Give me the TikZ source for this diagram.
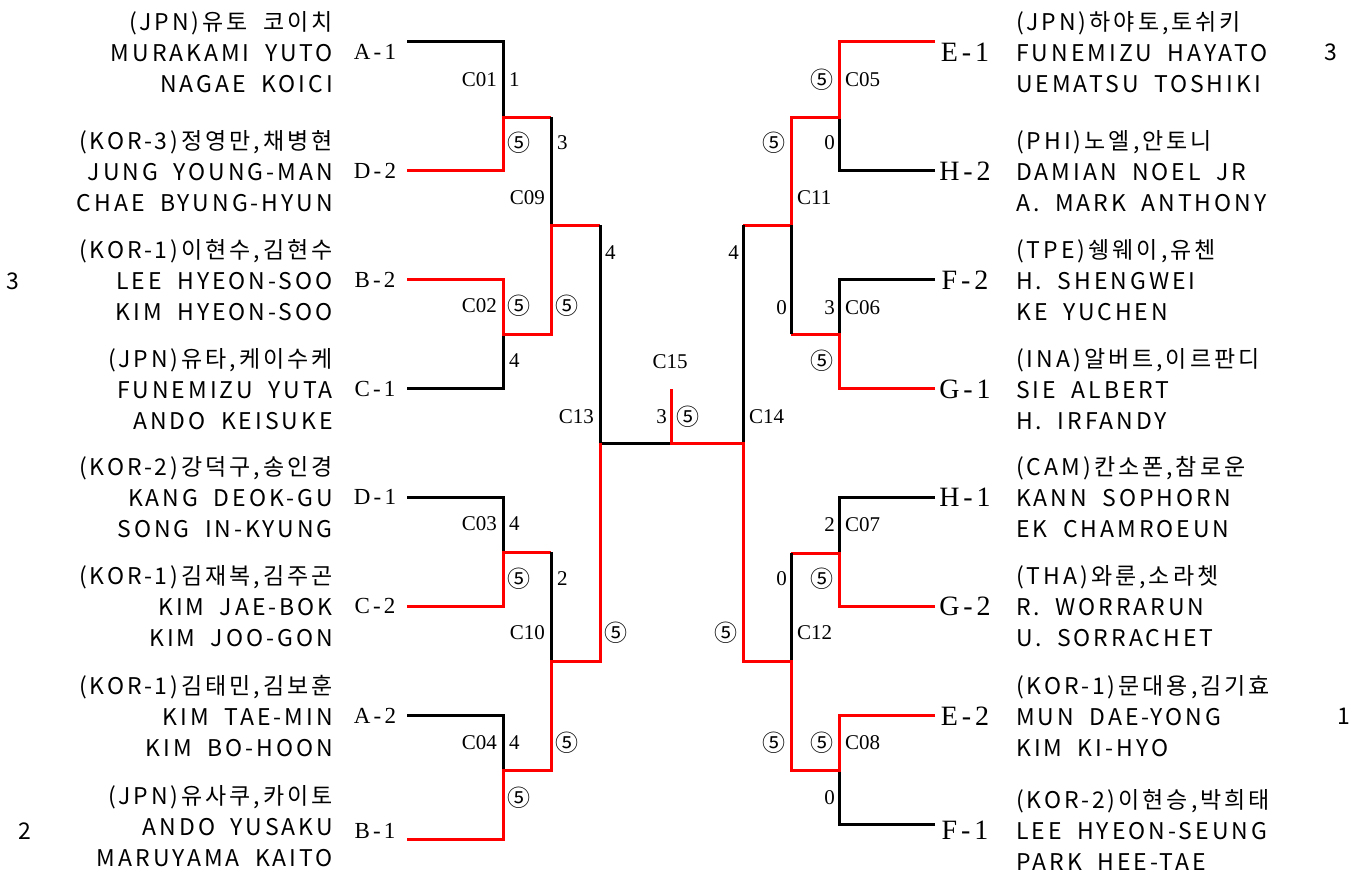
\documentclass[tikz,border=0pt]{standalone}
\usepackage{fontspec}
\setmainfont{Liberation Serif}
\newfontfamily\krfont[LetterSpace=13, WordSpace=1.9]{Noto Sans CJK KR}
\newfontfamily\circfont{Noto Sans CJK KR}
\newfontfamily\seedfont[LetterSpace=14]{Liberation Serif}
\usepackage{tikz}

\begin{document}
\begin{tikzpicture}[x=1pt, y=-1pt,
		win/.style={draw=red, line width=3pt},
		lose/.style={draw=black, line width=3pt},
		team/.style={font=\krfont\fontsize{23}{31}\selectfont, inner sep=0pt},
		seedl/.style={font=\seedfont\fontsize{23}{24}\selectfont, inner sep=0pt},
		seedr/.style={font=\seedfont\fontsize{28}{30}\selectfont, inner sep=0pt},
		match/.style={font=\fontsize{21}{24}\selectfont, inner sep=0pt},
		five/.style={font=\circfont\fontsize{23}{24}\selectfont, inner sep=0pt}]
				\useasboundingbox (0,0) rectangle (1356,876);
				% Teams, left half:
				\node[team, anchor=east, align=right] (tA1) at (333,52) {(JPN)유토 코이치\\MURAKAMI YUTO\\NAGAE KOICI};
				\node[team, anchor=east, align=right] (tD2) at (333,171) {(KOR-3)정영만,채병현\\JUNG YOUNG-MAN\\CHAE BYUNG-HYUN};
				\node[team, anchor=east, align=right] (tB2) at (333,280) {(KOR-1)이현수,김현수\\LEE HYEON-SOO\\KIM HYEON-SOO};
				\node[team, anchor=east, align=right] (tC1) at (333,389) {(JPN)유타,케이수케\\FUNEMIZU YUTA\\ANDO KEISUKE};
				\node[team, anchor=east, align=right] (tD1) at (333,497) {(KOR-2)강덕구,송인경\\KANG DEOK-GU\\SONG IN-KYUNG};
				\node[team, anchor=east, align=right] (tC2) at (333,606) {(KOR-1)김재복,김주곤\\KIM JAE-BOK\\KIM JOO-GON};
				\node[team, anchor=east, align=right] (tA2) at (333,716) {(KOR-1)김태민,김보훈\\KIM TAE-MIN\\KIM BO-HOON};
				\node[team, anchor=east, align=right] (tB1) at (333,826) {(JPN)유사쿠,카이토\\ANDO YUSAKU\\MARUYAMA KAITO};
				\node[seedl] (sA1) at (375,52) {A-1};
				\node[seedl] (sD2) at (375,171) {D-2};
				\node[seedl] (sB2) at (375,280) {B-2};
				\node[seedl] (sC1) at (375,389) {C-1};
				\node[seedl] (sD1) at (375,497) {D-1};
				\node[seedl] (sC2) at (375,606) {C-2};
				\node[seedl] (sA2) at (375,716) {A-2};
				\node[seedl] (sB1) at (375,831) {B-1};
				\node[team] (pl1) at (13,281) {3};
				\node[team] (pl2) at (25,831) {2};
				% Teams, right half:
				\node[team, anchor=west, align=left] (tE1) at (1016,52) {(JPN)하야토,토쉬키\\FUNEMIZU HAYATO\\UEMATSU TOSHIKI};
				\node[team, anchor=west, align=left] (tH2) at (1016,171) {(PHI)노엘,안토니\\DAMIAN NOEL JR\\A. MARK ANTHONY};
				\node[team, anchor=west, align=left] (tF2) at (1016,280) {(TPE)쉥웨이,유첸\\H. SHENGWEI\\KE YUCHEN};
				\node[team, anchor=west, align=left] (tG1) at (1016,389) {(INA)알버트,이르판디\\SIE ALBERT\\H. IRFANDY};
				\node[team, anchor=west, align=left] (tH1) at (1016,497) {(CAM)칸소폰,참로운\\KANN SOPHORN\\EK CHAMROEUN};
				\node[team, anchor=west, align=left] (tG2) at (1016,606) {(THA)와룬,소라쳇\\R. WORRARUN\\U. SORRACHET};
				\node[team, anchor=west, align=left] (tE2) at (1016,716) {(KOR-1)문대용,김기효\\MUN DAE-YONG\\KIM KI-HYO};
				\node[team, anchor=west, align=left] (tF1) at (1016,830) {(KOR-2)이현승,박희태\\LEE HYEON-SEUNG\\PARK HEE-TAE};
				\node[seedr] (sE1) at (965,52) {E-1};
				\node[seedr] (sH2) at (965,171) {H-2};
				\node[seedr] (sF2) at (965,280) {F-2};
				\node[seedr] (sG1) at (965,389) {G-1};
				\node[seedr] (sH1) at (965,497) {H-1};
				\node[seedr] (sG2) at (965,606) {G-2};
				\node[seedr] (sE2) at (965,716) {E-2};
				\node[seedr] (sF1) at (965,830) {F-1};
				\node[team] (pl3) at (1331,52) {3};
				\node[team] (pl4) at (1344,716) {1};
				% Bracket points:
				\coordinate (eA1) at (407,41);
				\coordinate (eD2) at (407,170);
				\coordinate (eB2) at (407,279);
				\coordinate (eC1) at (407,388);
				\coordinate (eD1) at (407,497);
				\coordinate (eC2) at (407,606);
				\coordinate (eA2) at (407,715);
				\coordinate (eB1) at (407,839);
				\coordinate (m01) at (503,117);
				\coordinate (m02) at (503,334);
				\coordinate (m03) at (503,552);
				\coordinate (m04) at (503,770);
				\coordinate (m09) at (551,225);
				\coordinate (m10) at (551,661);
				\coordinate (m13) at (600,443);
				\coordinate (m15) at (671,443);
				\coordinate (f15) at (671,389);
				\coordinate (eE1) at (935,41);
				\coordinate (eH2) at (935,170);
				\coordinate (eF2) at (935,279);
				\coordinate (eG1) at (935,388);
				\coordinate (eH1) at (935,497);
				\coordinate (eG2) at (935,606);
				\coordinate (eE2) at (935,715);
				\coordinate (eF1) at (935,824);
				\coordinate (m05) at (839,117);
				\coordinate (m06) at (839,334);
				\coordinate (m07) at (839,553);
				\coordinate (m08) at (839,770);
				\coordinate (m11) at (791,225);
				\coordinate (m12) at (791,661);
				\coordinate (m14) at (743,443);
				% Lines, left half:
				\draw[lose] (eA1) -| (m01);
				\draw[win] (eD2) -| (m01) -- (m01 -| m09);
				\draw[lose] (m01 -| m09) -- (m09);
				\draw[lose] (eC1) -| (m02);
				\draw[win] (eB2) -| (m02) -- (m02 -| m09) -- (m09) -- (m09 -| m13);
				\draw[lose] (m09 -| m13) -- (m13) -- (m15);
				\draw[lose] (eD1) -| (m03);
				\draw[win] (eC2) -| (m03) -- (m03 -| m10);
				\draw[lose] (m03 -| m10) -- (m10);
				\draw[lose] (eA2) -| (m04);
				\draw[win] (eB1) -| (m04) -- (m04 -| m10) -- (m10) -- (m10 -| m13) -- (m13);
				% Lines, right half:
				\draw[lose] (eH2) -| (m05);
				\draw[win] (eE1) -| (m05) -- (m05 -| m11) -- (m11) -- (m11 -| m14);
				\draw[lose] (eF2) -| (m06);
				\draw[win] (eG1) -| (m06) -- (m06 -| m11);
				\draw[lose] (m06 -| m11) -- (m11);
				\draw[lose] (m11 -| m14) -- (m14);
				\draw[lose] (eH1) -| (m07);
				\draw[win] (eG2) -| (m07) -- (m07 -| m12);
				\draw[lose] (m07 -| m12) -- (m12);
				\draw[lose] (eF1) -| (m08);
				\draw[win] (eE2) -| (m08) -- (m08 -| m12) -- (m12) -- (m12 -| m14) -- (m14) -- (m15) -- (f15);
				% Match numbers and scores, left half:
				\node[match, anchor=east] (c01) at (497,80) {C01};
				\node[match, anchor=west] (s01a) at (509,80) {1};
				\node[five, anchor=west] (s01b) at (507,143) {⑤};
				\node[match, anchor=east] (c02) at (497,306) {C02};
				\node[five, anchor=west] (s02a) at (507,306) {⑤};
				\node[match, anchor=west] (s02b) at (509,361) {4};
				\node[match, anchor=east] (c03) at (497,524) {C03};
				\node[match, anchor=west] (s03a) at (509,524) {4};
				\node[five, anchor=west] (s03b) at (507,579) {⑤};
				\node[match, anchor=east] (c04) at (497,743) {C04};
				\node[match, anchor=west] (s04a) at (509,743) {4};
				\node[five, anchor=west] (s04b) at (507,798) {⑤};
				\node[match, anchor=east] (c09) at (545,198) {C09};
				\node[match, anchor=west] (s09a) at (557,143) {3};
				\node[five, anchor=west] (s09b) at (555,306) {⑤};
				\node[match, anchor=east] (c10) at (545,633) {C10};
				\node[match, anchor=west] (s10a) at (557,579) {2};
				\node[five, anchor=west] (s10b) at (555,743) {⑤};
				\node[match, anchor=east] (c13) at (594,417) {C13};
				\node[match, anchor=west] (s13a) at (605,253) {4};
				\node[five, anchor=west] (s13b) at (604,633) {⑤};
				\node[match] (c15) at (670,362) {C15};
				\node[match, anchor=east] (s15a) at (667,417) {3};
				\node[five, anchor=west] (s15b) at (676,417) {⑤};
				% Match numbers and scores, right half:
				\node[match, anchor=west] (c14) at (749,417) {C14};
				\node[match, anchor=east] (s14a) at (739,253) {4};
				\node[five, anchor=east] (s14b) at (738,633) {⑤};
				\node[match, anchor=west] (c11) at (797,198) {C11};
				\node[five, anchor=east] (s11a) at (786,143) {⑤};
				\node[match, anchor=east] (s11b) at (787,308) {0};
				\node[match, anchor=west] (c12) at (797,633) {C12};
				\node[match, anchor=east] (s12a) at (787,579) {0};
				\node[five, anchor=east] (s12b) at (786,743) {⑤};
				\node[match, anchor=west] (c05) at (845,80) {C05};
				\node[five, anchor=east] (s05a) at (834,80) {⑤};
				\node[match, anchor=east] (s05b) at (835,143) {0};
				\node[match, anchor=west] (c06) at (845,308) {C06};
				\node[match, anchor=east] (s06a) at (835,308) {3};
				\node[five, anchor=east] (s06b) at (834,361) {⑤};
				\node[match, anchor=west] (c07) at (845,525) {C07};
				\node[match, anchor=east] (s07a) at (835,525) {2};
				\node[five, anchor=east] (s07b) at (834,579) {⑤};
				\node[match, anchor=west] (c08) at (845,743) {C08};
				\node[five, anchor=east] (s08a) at (834,743) {⑤};
				\node[match, anchor=east] (s08b) at (835,798) {0};
			\end{tikzpicture}
\end{document}
